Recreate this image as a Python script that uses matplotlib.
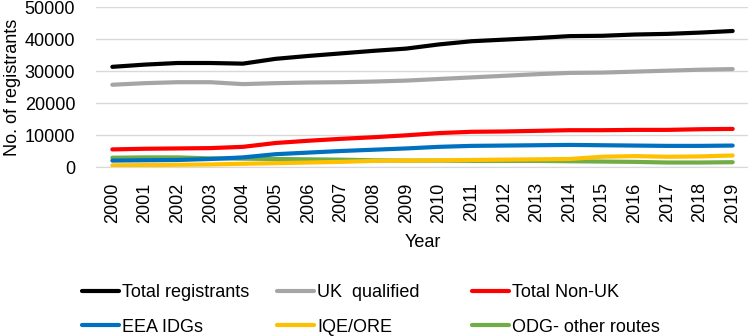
import matplotlib
matplotlib.use("Agg")
import matplotlib.pyplot as plt

years = list(range(2000, 2020))
total = [31300, 32000, 32500, 32500, 32300, 33800, 34700, 35500, 36300, 37000,
         38300, 39300, 39800, 40300, 40900, 41000, 41400, 41600, 42000, 42500]
uk = [25700, 26200, 26500, 26500, 25900, 26200, 26400, 26500, 26700, 27000,
      27500, 28000, 28500, 29000, 29400, 29500, 29800, 30100, 30400, 30600]
non_uk = [5500, 5700, 5800, 5900, 6300, 7500, 8200, 8800, 9300, 9900,
          10600, 11000, 11100, 11300, 11500, 11500, 11600, 11600, 11800, 11900]
eea = [2000, 2100, 2200, 2500, 3000, 4000, 4500, 5000, 5400, 5800,
       6300, 6600, 6700, 6800, 6900, 6800, 6700, 6600, 6600, 6700]
iqe = [500, 600, 700, 800, 1000, 1200, 1400, 1600, 1900, 2000,
       2100, 2200, 2300, 2400, 2500, 3200, 3400, 3200, 3300, 3600]
odg = [2900, 3000, 3000, 2700, 2600, 2500, 2400, 2300, 2100, 2000,
       2000, 1900, 1900, 1900, 1800, 1700, 1600, 1400, 1400, 1500]

series = [
    ("Total registrants", total, "#000000"),
    ("UK  qualified", uk, "#a5a5a5"),
    ("Total Non-UK", non_uk, "#ff0000"),
    ("EEA IDGs", eea, "#0070c0"),
    ("IQE/ORE", iqe, "#ffc000"),
    ("ODG- other routes", odg, "#70ad47"),
]

plt.rcParams['font.family'] = ['Liberation Sans', 'DejaVu Sans']
W, H = 748, 336
fig = plt.figure(figsize=(W / 100, H / 100), dpi=100)
ax = fig.add_axes([96 / W, 1 - 167 / H, (749 - 96) / W, 160 / H])
x = list(range(len(years)))
lines = {}
for i in [5, 4, 3, 2, 1, 0]:
    name, vals, col = series[i]
    ln, = ax.plot(x, vals, color=col, lw=3.0, solid_capstyle='round', label=name, zorder=3)
    lines[i] = ln

ax.set_xlim(-0.5, len(years) - 0.5)
ax.set_ylim(0, 50000)
ax.set_yticks(range(0, 50001, 10000))
ax.set_xticks(x)
ax.set_xticklabels([str(y) for y in years], rotation=90, fontsize=13)
ax.tick_params(axis='y', labelsize=13, length=0, pad=15)
ax.tick_params(axis='x', length=0, pad=11)
ax.grid(axis='y', color='#d9d9d9', lw=1)
ax.set_axisbelow(True)
for s in ['top', 'right', 'left']:
    ax.spines[s].set_visible(False)
ax.spines['bottom'].set_color('#d9d9d9')
ax.set_ylabel("No. of registrants", fontsize=13, labelpad=3)
ax.set_xlabel("Year", fontsize=13, labelpad=8)

col_x = [82, 277, 472]
for c in range(3):
    hs = [lines[c], lines[c + 3]]
    ls = [series[c][0], series[c + 3][0]]
    fig.legend(hs, ls, loc='center left', bbox_to_anchor=(col_x[c] / W, 1 - 310 / H),
               frameon=False, fontsize=13, handlelength=2.05, handletextpad=0.17,
               borderpad=0, borderaxespad=0, labelspacing=0.95)
fig.savefig("out.png", dpi=100)
